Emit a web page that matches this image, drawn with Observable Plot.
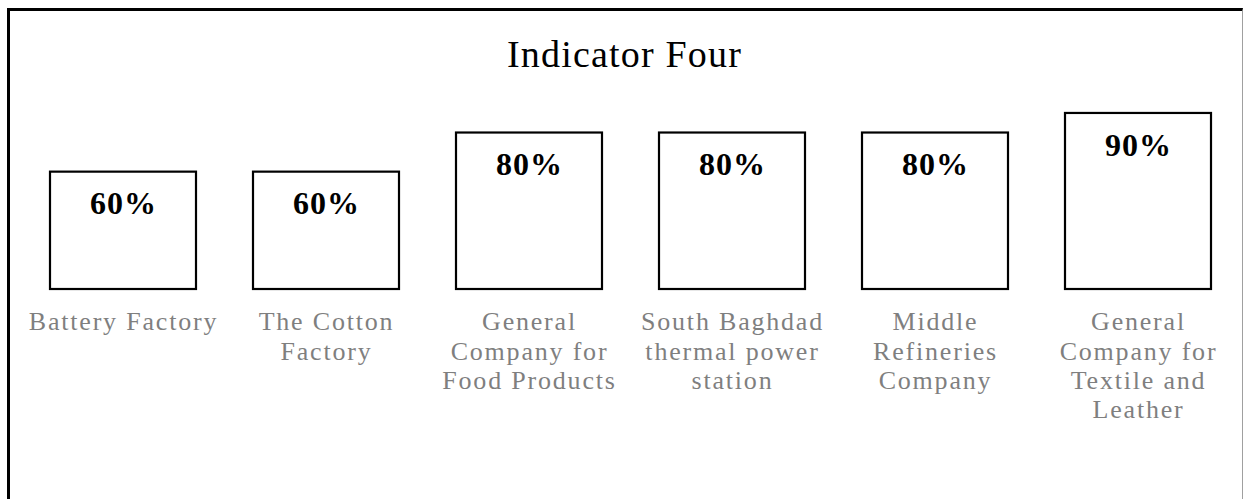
<!DOCTYPE html>
<html>
<head>
<meta charset="utf-8">
<script src="https://cdn.jsdelivr.net/npm/d3@7"></script>
<script src="https://cdn.jsdelivr.net/npm/@observablehq/plot@0.6"></script>
<style>
  html, body { margin: 0; padding: 0; background: #fff; }
  #wrap { position: relative; width: 1243px; height: 499px; overflow: hidden; }
  #frame { position: absolute; left: 7px; top: 8px; width: 1232px; height: 520px;
           border-left: 3px solid #000; border-top: 3px solid #000; border-right: 1px solid #a0a0a0;
           pointer-events: none; }
</style>
</head>
<body>
<div id="wrap"><div id="chart"></div><div id="frame"></div></div>
<script>
const title = "Indicator Four";
const categories = [
  "Battery Factory",
  "The Cotton Factory",
  "General Company for Food Products",
  "South Baghdad thermal power station",
  "Middle Refineries Company",
  "General Company for Textile and Leather"
];
const labels = [
  "Battery Factory",
  "The Cotton\nFactory",
  "General\nCompany for\nFood Products",
  "South Baghdad\nthermal power\nstation",
  "Middle\nRefineries\nCompany",
  "General\nCompany for\nTextile and\nLeather"
];
const values = [60, 60, 80, 80, 80, 90];

const data = categories.map((c, i) => ({name: c, label: labels[i], value: values[i]}));
const serif = "'Liberation Serif', 'Times New Roman', serif";

const chart = Plot.plot({
  width: 1243,
  height: 499,
  marginLeft: 49,
  marginRight: 32,
  marginTop: 93.4,
  marginBottom: 210,
  style: {fontFamily: serif, background: "transparent", overflow: "visible"},
  x: {domain: categories, paddingInner: 0.282, paddingOuter: 0, axis: null},
  y: {domain: [0, 100], axis: null},
  marks: [
    Plot.barY(data, {x: "name", y: "value", fill: "white", stroke: "black", strokeWidth: 2.2}),
    Plot.text(data, {x: "name", y: "value", text: d => d.value + "%", lineAnchor: "top", dy: 19.5,
      fontSize: 32, fontWeight: "bold", fill: "black", fontFamily: serif}),
    Plot.text(data, {x: "name", text: "label", frameAnchor: "bottom", lineAnchor: "top", dy: 20,
      fontSize: 26, lineHeight: 1.13, fill: "#7f7f7f", fontFamily: serif}),
    Plot.text([title], {frameAnchor: "top", lineAnchor: "top", dy: -54, dx: -6,
      fontSize: 38, fill: "black", fontFamily: serif})
  ]
});
d3.select(chart).selectAll("text").style("letter-spacing", function() {
  const fs = +this.closest("g").getAttribute("font-size");
  return fs === 38 ? "1.2px" : fs === 32 ? "1px" : "1.8px";
});
document.getElementById("chart").appendChild(chart);
</script>
</body>
</html>
